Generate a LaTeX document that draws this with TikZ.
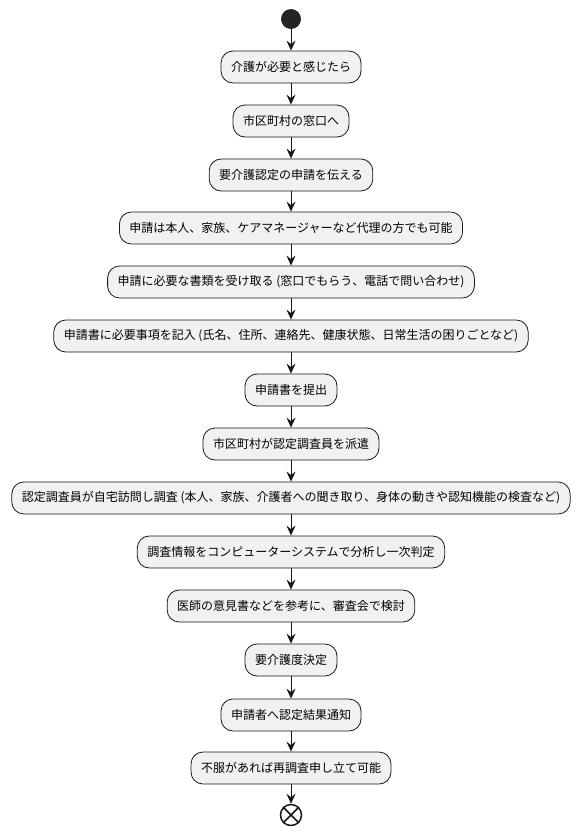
\documentclass[tikz,border=0pt]{standalone}
\usepackage{fontspec}
\setmainfont{Noto Sans CJK JP}
\usetikzlibrary{arrows.meta}
\definecolor{boxfill}{HTML}{F1F1F1}
\definecolor{ink}{HTML}{181818}
\tikzset{
    act/.style={thick, draw=ink, fill=boxfill, rectangle, rounded corners=12pt, minimum height=32pt, inner xsep=10pt, font=\fontsize{12}{14}\selectfont, text=black},
    flow/.style={draw=ink, line width=1pt, -{Stealth[length=10pt, width=9pt, inset=3.5pt]}}
}

\begin{document}
\begin{tikzpicture}[x=1pt, y=1pt]
    \useasboundingbox (0, 0) rectangle (582, -835);
    \node[circle, fill=ink!95, minimum size=20pt, inner sep=0pt] at (291, -19) (start) {};
    \node[act] at (291, -67) (A1) {介護が必要と感じたら};
    \node[act] at (291, -121) (A2) {市区町村の窓口へ};
    \node[act] at (291, -175) (A3) {要介護認定の申請を伝える};
    \node[act] at (291, -228) (A4) {申請は本人、家族、ケアマネージャーなど代理の方でも可能};
    \node[act] at (291, -282) (A5) {申請に必要な書類を受け取る (窓口でもらう、電話で問い合わせ)};
    \node[act] at (291, -336) (A6) {申請書に必要事項を記入 (氏名、住所、連絡先、健康状態、日常生活の困りごとなど)};
    \node[act] at (291, -390) (A7) {申請書を提出};
    \node[act] at (291, -444) (A8) {市区町村が認定調査員を派遣};
    \node[act] at (291, -498) (A9) {認定調査員が自宅訪問し調査 (本人、家族、介護者への聞き取り、身体の動きや認知機能の検査など)};
    \node[act] at (291, -552) (A10) {調査情報をコンピューターシステムで分析し一次判定};
    \node[act] at (291, -606) (A11) {医師の意見書などを参考に、審査会で検討};
    \node[act] at (291, -660) (A12) {要介護度決定};
    \node[act] at (291, -715) (A13) {申請者へ認定結果通知};
    \node[act] at (291, -768) (A14) {不服があれば再調査申し立て可能};
    \node[circle, draw=ink, line width=1.5pt, fill=white, minimum size=21pt, inner sep=0pt] at (291, -815) (stop) {};
    \draw[ink, line width=1.5pt] (stop.north west) -- (stop.south east);
    \draw[ink, line width=1.5pt] (stop.north east) -- (stop.south west);

    \draw[flow] (start) -- (A1);
    \draw[flow] (A1) -- (A2);
    \draw[flow] (A2) -- (A3);
    \draw[flow] (A3) -- (A4);
    \draw[flow] (A4) -- (A5);
    \draw[flow] (A5) -- (A6);
    \draw[flow] (A6) -- (A7);
    \draw[flow] (A7) -- (A8);
    \draw[flow] (A8) -- (A9);
    \draw[flow] (A9) -- (A10);
    \draw[flow] (A10) -- (A11);
    \draw[flow] (A11) -- (A12);
    \draw[flow] (A12) -- (A13);
    \draw[flow] (A13) -- (A14);
    \draw[flow] (A14) -- (stop);
\end{tikzpicture}
\end{document}
